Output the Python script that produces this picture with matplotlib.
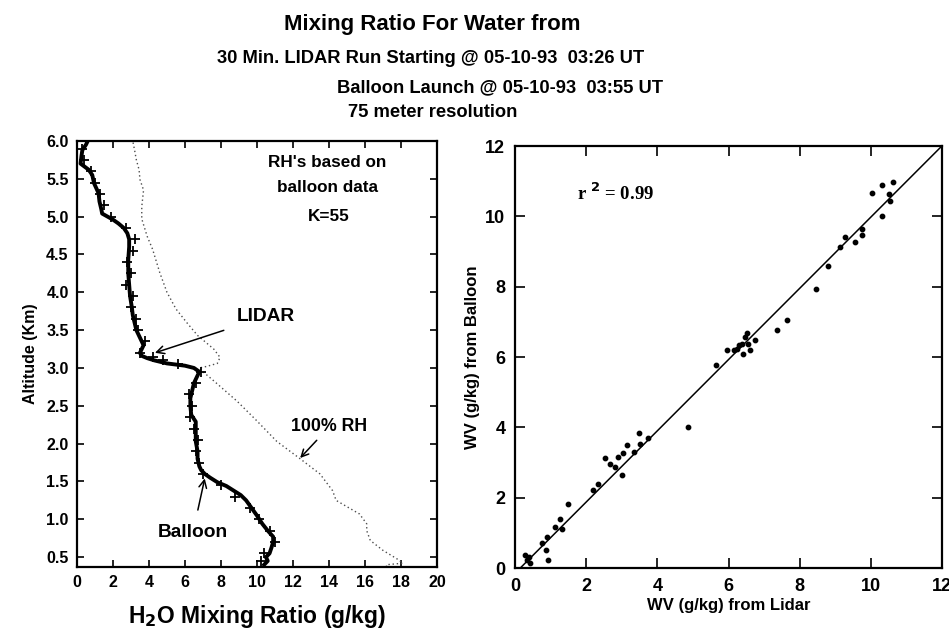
import numpy as np
import matplotlib
matplotlib.use("Agg")
import matplotlib.pyplot as plt

plt.rcParams['font.family'] = ['Liberation Sans', 'DejaVu Sans']
plt.rcParams['font.weight'] = 'bold'
plt.rcParams['axes.labelweight'] = 'bold'

# balloon sonde profile: altitude (km) and water vapour mixing ratio (g/kg)
balloon_alt = [0.40, 0.45, 0.50, 0.55, 0.62, 0.70, 0.77, 0.85, 0.94, 1.05, 1.15, 1.25, 1.32,
               1.38, 1.44, 1.49, 1.55, 1.60, 1.65, 1.70, 1.80, 1.90, 2.03, 2.15, 2.29, 2.38,
               2.50, 2.60, 2.70, 2.80, 2.90, 2.95, 3.00, 3.03, 3.06, 3.10, 3.13, 3.16, 3.20,
               3.25, 3.30, 3.40, 3.50, 3.60, 3.70, 3.80, 3.95, 4.10, 4.25, 4.43, 4.60, 4.70,
               4.78, 4.85, 4.91, 4.96, 5.00, 5.04, 5.10, 5.20, 5.31, 5.44, 5.55, 5.62, 5.70,
               5.80, 5.88, 5.95, 6.00]
balloon_wv = [10.4, 10.6, 10.5, 10.7, 10.8, 10.9, 10.9, 10.6, 10.3, 10.0, 9.7, 9.4, 9.1,
              8.7, 8.3, 7.8, 7.4, 7.1, 6.9, 6.8, 6.7, 6.7, 6.6, 6.6, 6.6, 6.35,
              6.3, 6.3, 6.4, 6.5, 6.7, 6.8, 6.5, 6.0, 5.0, 4.3, 3.9, 3.6, 3.5,
              3.6, 3.7, 3.5, 3.3, 3.2, 3.1, 3.05, 2.95, 2.9, 2.85, 2.85, 2.9, 2.9,
              2.8, 2.6, 2.3, 2.0, 1.7, 1.4, 1.35, 1.25, 1.2, 0.95, 0.85, 0.65, 0.2,
              0.25, 0.3, 0.5, 0.6]

# lidar retrieval, 75 m bins
lidar_alt = [0.45, 0.55, 0.70, 0.85, 1.00, 1.15, 1.30, 1.45, 1.60, 1.75, 1.90, 2.05, 2.20,
             2.35, 2.50, 2.65, 2.80, 2.95, 3.05, 3.10, 3.15, 3.20, 3.35, 3.50, 3.65, 3.80,
             3.95, 4.10, 4.25, 4.40, 4.55, 4.70, 4.85, 5.00, 5.15, 5.30, 5.45, 5.60, 5.75, 5.90]
lidar_wv = [10.2, 10.4, 11.0, 10.7, 10.1, 9.6, 8.8, 8.0, 7.0, 6.8, 6.6, 6.7, 6.5,
            6.3, 6.4, 6.2, 6.6, 6.9, 5.6, 4.8, 4.2, 3.5, 3.8, 3.4, 3.3, 3.0,
            3.1, 2.7, 3.0, 2.8, 3.1, 3.2, 2.7, 1.9, 1.5, 1.3, 1.0, 0.8, 0.4, 0.3]

# saturation mixing ratio (100% RH)
rh100_alt = [0.37, 0.40, 0.42, 0.46, 0.59, 0.72, 0.85, 0.94, 1.07, 1.25, 1.38, 1.60, 1.80,
             2.03, 2.30, 2.56, 2.83, 2.95, 3.00, 3.02, 3.06, 3.14, 3.25, 3.43, 3.60, 3.78,
             4.00, 4.26, 4.57, 4.74, 4.97, 5.13, 5.35, 5.49, 5.62, 5.75, 5.88, 6.00]
rh100_wv = [17.2, 17.2, 18.1, 17.9, 17.0, 16.3, 16.1, 16.1, 15.7, 14.4, 14.2, 13.5, 12.4,
            11.1, 10.0, 8.9, 7.6, 7.0, 6.8, 7.2, 7.8, 7.95, 7.6, 6.7, 6.1, 5.5,
            5.0, 4.6, 4.2, 3.9, 3.6, 3.6, 3.7, 3.5, 3.45, 3.3, 3.2, 3.1]

# lidar vs balloon comparison
wv_lidar = [10.02, 10.3, 10.5, 10.53, 10.63, 10.3, 9.27, 9.55, 9.74, 9.74, 9.13, 8.8, 8.47,
            7.63, 7.35, 6.74, 6.23, 6.37, 6.46, 6.51, 6.42, 6.6, 6.14, 5.95, 6.28, 6.55,
            5.66, 4.87, 3.75, 3.47, 3.51, 3.14, 3.33, 3.04, 2.9, 2.81, 3.0, 2.53, 2.67,
            2.34, 2.2, 1.5, 1.27, 1.31, 1.12, 0.89, 0.75, 0.87, 0.94, 0.38, 0.33, 0.42, 0.28]
wv_balloon = [10.66, 10.88, 10.64, 10.45, 10.98, 10.0, 9.4, 9.27, 9.46, 9.65, 9.13, 8.6, 7.94,
              7.04, 6.76, 6.49, 6.24, 6.38, 6.57, 6.67, 6.09, 6.19, 6.19, 6.19, 6.33, 6.38,
              5.77, 4.02, 3.69, 3.83, 3.54, 3.5, 3.31, 3.26, 3.16, 2.88, 2.64, 3.12, 2.97,
              2.4, 2.21, 1.83, 1.4, 1.12, 1.17, 0.89, 0.7, 0.5, 0.23, 0.32, 0.23, 0.13, 0.36]
fit_slope = 1.013
fit_intercept = -0.15
r_squared = 0.99

fig = plt.figure(figsize=(9.49, 6.34), dpi=100)

fig.text(0.456, 0.962, "Mixing Ratio For Water from", ha='center', va='center', fontsize=16)
fig.text(0.454, 0.908, "30 Min. LIDAR Run Starting @ 05-10-93  03:26 UT",
         ha='center', va='center', fontsize=13.2)
fig.text(0.699, 0.861, "Balloon Launch @ 05-10-93  03:55 UT", ha='right', va='center', fontsize=13.2)
fig.text(0.456, 0.822, "75 meter resolution", ha='center', va='center', fontsize=13.2)

# left: altitude profiles
ax1 = fig.add_axes([0.0811, 0.1057, 0.3793, 0.672])
ax1.plot(rh100_wv, rh100_alt, color='0.3', lw=1.0, ls=(0, (1, 2)))
ax1.plot(balloon_wv, balloon_alt, color='black', lw=2.8)
ax1.plot(lidar_wv, lidar_alt, ls='none', marker='+', ms=7, mew=1.3, color='black')
ax1.set_xlim(0, 20)
ax1.set_ylim(0.37, 6.0)
ax1.set_xticks(np.arange(0, 21, 2))
ax1.set_yticks(np.arange(0.5, 6.01, 0.5))
ax1.yaxis.set_major_formatter(matplotlib.ticker.FormatStrFormatter('%.1f'))
ax1.tick_params(direction='in', length=5, width=1.2, top=True, right=True,
                labelsize=11.5, pad=6)
ax1.set_xlabel("H$_\\mathbf{2}$O Mixing Ratio (g/kg)", fontsize=16.5, labelpad=9)
ax1.set_ylabel("Altitude (Km)", fontsize=11.5, labelpad=6)
for s in ax1.spines.values():
    s.set_linewidth(1.6)

ax1.text(13.9, 5.71, "RH's based on", ha='center', va='center', fontsize=12.3)
ax1.text(13.9, 5.38, "balloon data", ha='center', va='center', fontsize=12.3)
ax1.text(14.0, 5.0, "K=55", ha='center', va='center', fontsize=12.3)
ax1.annotate("LIDAR", xy=(4.33, 3.2), xytext=(8.9, 3.68), fontsize=13.8, va='center',
             arrowprops=dict(arrowstyle='->', color='black', lw=1.1, shrinkA=8, shrinkB=0))
ax1.annotate("100% RH", xy=(12.4, 1.81), xytext=(11.9, 2.22), fontsize=12.8, va='center',
             arrowprops=dict(arrowstyle='->', color='black', lw=1.1, shrinkA=2, shrinkB=0))
ax1.annotate("Balloon", xy=(7.1, 1.54), xytext=(4.5, 0.83), fontsize=13.8, va='center',
             arrowprops=dict(arrowstyle='->', color='black', lw=1.1, shrinkA=8, shrinkB=0))

# right: scatter comparison
ax2 = fig.add_axes([0.5427, 0.1041, 0.45, 0.6656])
ax2.scatter(wv_lidar, wv_balloon, s=10, color='black', zorder=3)
fit_x = np.array([-fit_intercept / fit_slope, 12])
ax2.plot(fit_x, fit_intercept + fit_slope * fit_x, color='black', lw=1.1)
ax2.set_xlim(0, 12)
ax2.set_ylim(0, 12)
ax2.set_xticks(np.arange(0, 13, 2))
ax2.set_yticks(np.arange(0, 13, 2))
ax2.tick_params(direction='in', length=7, width=1.2, top=True, right=True,
                labelsize=13, pad=7)
ax2.set_xlabel("WV (g/kg) from Lidar", fontsize=12, labelpad=2)
ax2.set_ylabel("WV (g/kg) from Balloon", fontsize=12, labelpad=4)
for s in ax2.spines.values():
    s.set_linewidth(1.6)
ax2.text(1.74, 10.65, "r $^\\mathbf{2}$ = 0.99", fontsize=13.5, va='center',
         family=['Liberation Serif', 'DejaVu Serif'])

fig.savefig("out.png", dpi=100)
